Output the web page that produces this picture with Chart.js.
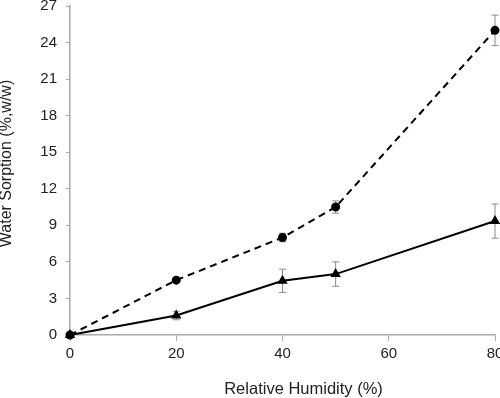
<!DOCTYPE html>
<html>
<head>
<meta charset="utf-8">
<script src="https://cdn.jsdelivr.net/npm/chart.js@4"></script>
<style>
  body { margin: 0; background: #fff; }
  #wrap { position: relative; width: 500px; height: 398px; overflow: hidden; }
  #chart { position: absolute; left: 0; top: -12px; }
</style>
</head>
<body>
<div id="wrap"><canvas id="chart" width="520" height="412"></canvas></div>
<script>
// relative humidity (%) on the x-axis
var humidity = [0, 20, 40, 50, 80];
// dashed line, round markers
var sorptionA = [0, 4.5, 8.0, 10.5, 25.0];
var errorA = [0, 0.15, 0.35, 0.5, 1.25];
// solid line, triangle markers
var sorptionB = [0, 1.6, 4.45, 5.0, 9.35];
var errorB = [0, 0.35, 0.95, 1.0, 1.4];
// tick labels
var xTicks = [0, 20, 40, 60, 80];
var yTicks = [0, 3, 6, 9, 12, 15, 18, 21, 24, 27];

function points(ys) {
  return humidity.map(function (x, i) { return { x: x, y: ys[i] }; });
}

// error bars drawn through the scales
var errorBars = {
  id: 'errorBars',
  beforeDatasetsDraw: function (chart) {
    var ctx = chart.ctx;
    var xs = chart.scales.x, ys = chart.scales.y;
    ctx.save();
    ctx.strokeStyle = '#8a8a8a';
    ctx.lineWidth = 1;
    chart.data.datasets.forEach(function (ds) {
      ds.data.forEach(function (p, i) {
        var e = ds.errors[i];
        if (!e) return;
        var px = xs.getPixelForValue(p.x);
        var top = ys.getPixelForValue(p.y + e);
        var bot = ys.getPixelForValue(p.y - e);
        ctx.beginPath();
        ctx.moveTo(px, top); ctx.lineTo(px, bot);
        ctx.moveTo(px - 3.5, top); ctx.lineTo(px + 3.5, top);
        ctx.moveTo(px - 3.5, bot); ctx.lineTo(px + 3.5, bot);
        ctx.stroke();
      });
    });
    ctx.restore();
  }
};

// axis titles, placed off-centre like the original
var axisTitles = {
  id: 'axisTitles',
  afterDraw: function (chart) {
    var a = chart.chartArea, ctx = chart.ctx;
    ctx.save();
    ctx.fillStyle = '#222';
    ctx.textAlign = 'center';
    ctx.textBaseline = 'middle';
    ctx.font = '16.5px "Liberation Sans", Arial, sans-serif';
    ctx.fillText('Relative Humidity (%)', (a.left + a.right) / 2 + 21, a.bottom + 54);
    ctx.font = '16px "Liberation Sans", Arial, sans-serif';
    ctx.translate(7, (a.top + a.bottom) / 2 - 7);
    ctx.rotate(-Math.PI / 2);
    ctx.fillText('Water Sorption (%,w/w)', 0, 0);
    ctx.restore();
  }
};

var font = { family: '"Liberation Sans", Arial, sans-serif', size: 15 };

var ctx = document.getElementById('chart');
var myChart = new Chart(ctx, {
  type: 'line',
  data: {
    datasets: [
      {
        data: points(sorptionA),
        errors: errorA,
        borderColor: '#000',
        backgroundColor: '#000',
        borderWidth: 2,
        borderDash: [7, 5],
        pointStyle: 'circle',
        pointRadius: 3.5,
        fill: false,
        clip: false
      },
      {
        data: points(sorptionB),
        errors: errorB,
        borderColor: '#000',
        backgroundColor: '#000',
        borderWidth: 2,
        pointStyle: 'triangle',
        pointRadius: 4,
        fill: false,
        clip: false
      }
    ]
  },
  options: {
    responsive: false,
    animation: false,
    layout: { padding: { top: 16, right: 25, bottom: 15, left: 0 } },
    plugins: { legend: { display: false }, tooltip: { enabled: false } },
    scales: {
      x: {
        type: 'linear',
        min: 0, max: 80,
        afterBuildTicks: function (s) { s.ticks = xTicks.map(function (v) { return { value: v }; }); },
        afterFit: function (s) { s.height = 50; },
        ticks: { font: font, color: '#222', padding: 4, maxRotation: 0 },
        grid: { drawOnChartArea: false, drawTicks: true, tickLength: 6, color: '#aaa' },
        border: { color: '#aaa', width: 1.5 }
      },
      y: {
        min: 0, max: 27,
        afterBuildTicks: function (s) { s.ticks = yTicks.map(function (v) { return { value: v }; }); },
        afterFit: function (s) { s.width = 70; },
        ticks: { font: font, color: '#222', padding: 9 },
        grid: { drawOnChartArea: false, drawTicks: true, tickLength: 4, color: '#aaa' },
        border: { color: '#aaa', width: 1.5 }
      }
    }
  },
  plugins: [errorBars, axisTitles]
});
</script>
</body>
</html>
